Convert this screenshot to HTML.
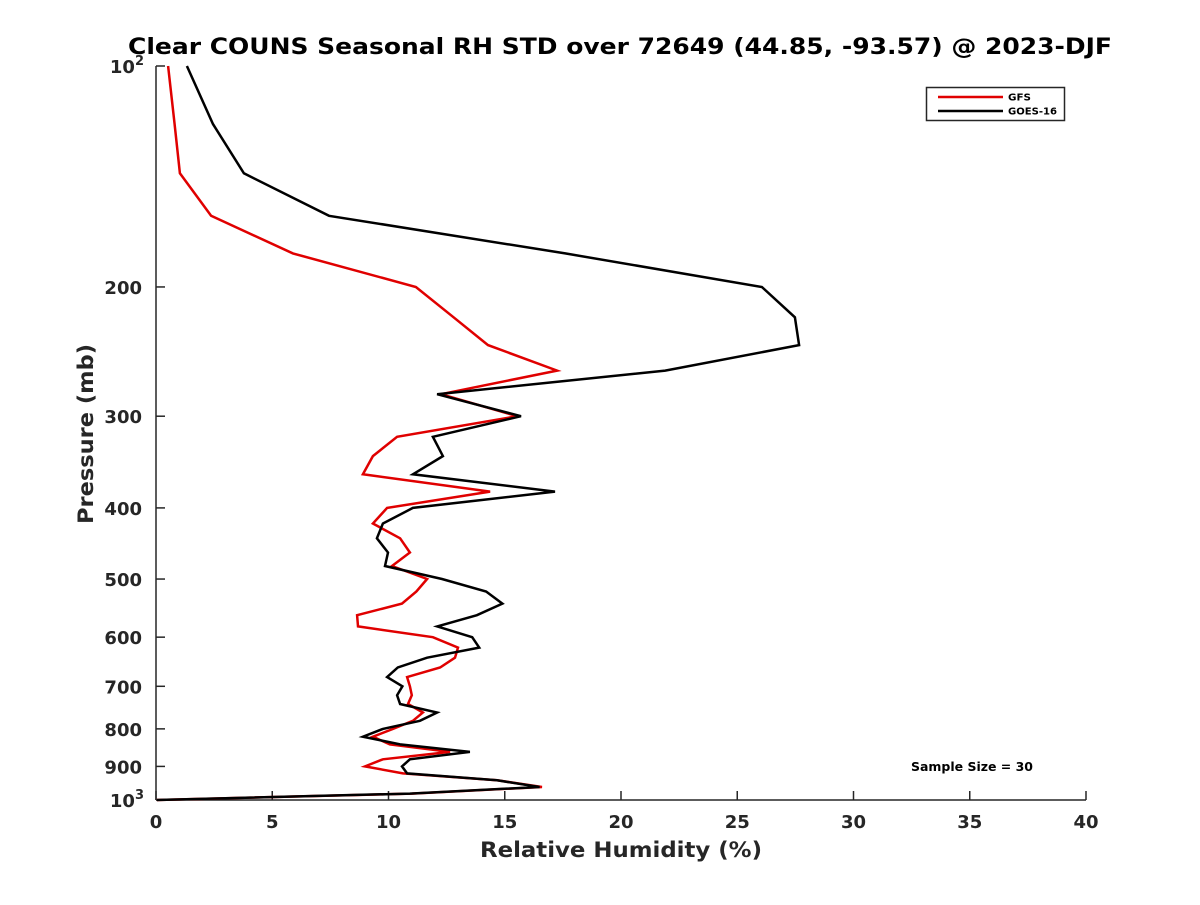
<!DOCTYPE html>
<html><head><meta charset="utf-8"><style>
body{margin:0;background:#fff}
svg text{font-family:"DejaVu Sans","Liberation Sans",sans-serif;font-weight:bold;fill:#262626}
</style></head><body>
<svg id="chart" width="1200" height="900" xmlns="http://www.w3.org/2000/svg">
<rect width="1200" height="900" fill="#fff"/>
<text x="620" y="54" text-anchor="middle" font-size="22" textLength="984" lengthAdjust="spacingAndGlyphs" style="fill:#000">Clear COUNS Seasonal RH STD over 72649 (44.85, -93.57) @ 2023-DJF</text>
<g id="axes"></g>
<g id="series"></g>
<text x="621" y="857" text-anchor="middle" font-size="21" textLength="282" lengthAdjust="spacingAndGlyphs">Relative Humidity (%)</text>
<text transform="translate(93,434) rotate(-90)" text-anchor="middle" font-size="21" textLength="180" lengthAdjust="spacingAndGlyphs">Pressure (mb)</text>
<g>
<rect x="926.5" y="87.5" width="138" height="33" fill="#fff" stroke="#262626" stroke-width="1.5"/>
<line x1="938" y1="97" x2="1003" y2="97" stroke="#e00000" stroke-width="2.5"/>
<text x="1008" y="100.5" font-size="10" textLength="23" lengthAdjust="spacingAndGlyphs" style="fill:#000">GFS</text>
<line x1="938" y1="111" x2="1003" y2="111" stroke="#000" stroke-width="2.5"/>
<text x="1008" y="114.5" font-size="10" textLength="49" lengthAdjust="spacingAndGlyphs" style="fill:#000">GOES-16</text>
</g>
<text x="911" y="771" font-size="12" textLength="122" lengthAdjust="spacingAndGlyphs" style="fill:#000">Sample Size = 30</text>
</svg>
<script>
const pressures=[100,120,140,160,180,200,220,240,260,280,300,320,340,360,380,400,420,440,460,480,500,520,540,560,580,600,620,640,660,680,700,720,740,760,780,800,820,840,860,880,900,920,940,960,980,1000];
const goesValues=[1.33,2.45,3.78,7.44,17.6,26.06,27.48,27.66,21.9,12.09,15.7,11.91,12.34,11.05,17.16,11.05,9.76,9.5,9.98,9.85,12.3,14.2,14.9,13.8,12.1,13.6,13.9,11.66,10.4,9.94,10.6,10.37,10.5,12.09,11.35,9.76,8.9,10.5,13.5,10.92,10.58,10.8,14.67,16.5,10.92,0.04];
const gfsValues=[0.52,0.8,1.03,2.37,5.89,11.18,12.8,14.28,17.25,12.26,15.53,10.37,9.33,8.9,14.37,9.94,9.33,10.5,10.92,10.15,11.66,11.2,10.58,8.65,8.69,11.91,12.99,12.86,12.22,10.8,10.92,11.0,10.84,11.48,11.05,10.2,9.33,10.06,12.65,9.76,8.99,10.62,14.67,16.6,11.0,0.04];
const xTicks=[0,5,10,15,20,25,30,35,40];
const yTicks=[100,200,300,400,500,600,700,800,900,1000];
const yTickLabels=["10^2","200","300","400","500","600","700","800","900","10^3"];
const X0=156,X1=1086,Y0=66,Y1=800;
const xs=v=>X0+(X1-X0)*v/40;
const ys=p=>Y0+(Y1-Y0)*Math.log10(p/100);
const NS="http://www.w3.org/2000/svg";
const ax=document.getElementById('axes'),se=document.getElementById('series');
function mk(tag,attrs,parent){const e=document.createElementNS(NS,tag);for(const k in attrs)e.setAttribute(k,attrs[k]);parent.appendChild(e);return e;}
let l=mk('line',{x1:X0,y1:Y0,x2:X0,y2:Y1,stroke:'#262626','stroke-width':1.5},ax);


l=mk('line',{x1:X0,y1:Y1,x2:X1,y2:Y1,stroke:'#262626','stroke-width':1.5},ax);


xTicks.forEach(v=>{
  const t=mk('line',{x1:xs(v),y1:Y1,x2:xs(v),y2:Y1-9,stroke:'#262626','stroke-width':1.5},ax);
  
  
  const tx=mk('text',{x:xs(v),y:Y1+28,'text-anchor':'middle','font-size':18},ax);
  tx.textContent=v;
  
  
});
yTicks.forEach((p,i)=>{
  const t=mk('line',{x1:X0,y1:ys(p),x2:X0+9,y2:ys(p),stroke:'#262626','stroke-width':1.5},ax);
  
  
  const lab=yTickLabels[i];
  if(lab.indexOf('^')>=0){
    const parts=lab.split('^');
    const tx=mk('text',{x:X0-12,y:ys(p)+7,'text-anchor':'end','font-size':18},ax);
    
    
    const b=mk('tspan',{},tx);b.textContent=parts[0];
    const s=mk('tspan',{dy:-8,'font-size':13},tx);s.textContent=parts[1];
  } else {
    const tx=mk('text',{x:X0-14,y:ys(p)+7,'text-anchor':'end','font-size':18},ax);
    tx.textContent=lab;
    
    
  }
});
function line(vals,color,name){
  const pts=vals.map((v,i)=>xs(v).toFixed(1)+','+ys(pressures[i]).toFixed(1)).join(' ');
  const pl=mk('polyline',{points:pts,fill:'none',stroke:color,'stroke-width':2.5,'stroke-linejoin':'miter'},se);
  
  
}
line(gfsValues,'#e00000','gfs-line');
line(goesValues,'#000','goes16-line');
</script>
</body></html>
